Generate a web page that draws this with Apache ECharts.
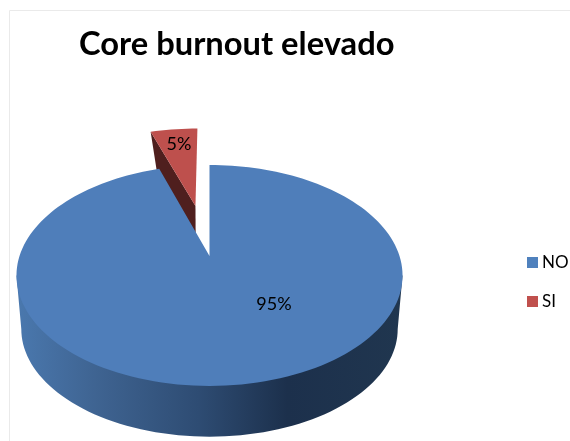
<!DOCTYPE html>
<html>
<head>
<meta charset="utf-8">
<style>html,body{margin:0;padding:0;background:#fff}#chart{width:570px;height:441px}</style>
<script src="https://cdn.jsdelivr.net/npm/echarts@6/dist/echarts.min.js"></script>
</head>
<body>
<div id="chart"></div>
<script>
const categories = ['NO', 'SI'];
const values = [95, 5];
const chartTitle = 'Core burnout elevado';

const FONT = 'Lato, "Open Sans", sans-serif';
const total = values.reduce((a, b) => a + b, 0);

// Perspective projection of the tilted disc: unit circle -> screen ellipse.
const pie = { x: 209.5, y: 256, a: 190, b: 107, k: 0.1765 };
const floor = { scale: 0.975, drop: 54 };
const explode = { SI: 0.515 };

function project(wx, wy) {
  const w = 1 + pie.k * wy;
  return [pie.x + pie.a * wx / w, pie.y - pie.b * wy / w];
}
function lower(p, scale, drop) {
  return [pie.x + (p[0] - pie.x) * scale, pie.y + (p[1] - pie.y) * scale + drop];
}
function arc(startDeg, endDeg, ox, oy) {
  const pts = [];
  const steps = Math.max(4, Math.ceil(Math.abs(endDeg - startDeg) / 2));
  for (let i = 0; i <= steps; i++) {
    const t = (startDeg + (endDeg - startDeg) * i / steps) * Math.PI / 180;
    pts.push(project(ox + Math.sin(t), oy + Math.cos(t)));
  }
  return pts;
}
function sliceRange(index) {
  let before = 0;
  for (let i = 0; i < index; i++) before += values[i];
  return [before / total * 360, (before + values[index]) / total * 360];
}
function label(text, x, y) {
  return {
    type: 'text', x, y, z2: 10,
    style: { text, fontFamily: FONT, fontSize: 18, fill: '#000', align: 'center', verticalAlign: 'middle' }
  };
}

// Large slice: side wall with a horizontal shade, then the flat top.
function renderNo(params, api) {
  const [s, e] = sliceRange(0);
  const share = api.value(0) / total;
  const top = arc(s, e, 0, 0);
  // The wall spans the disc's left and right silhouette points.
  const side = Math.acos(-pie.k) * 180 / Math.PI;
  const rim = arc(side, 360 - side, 0, 0);
  const wall = [rim[0]]
    .concat(rim.map(p => lower(p, floor.scale, floor.drop)))
    .concat([rim[rim.length - 1]]);
  const shade = {
    type: 'linear', x: 17, y: 0, x2: 403, y2: 0, global: true,
    colorStops: [
      { offset: 0, color: '#4A78AE' },
      { offset: 0.2, color: '#3F6492' },
      { offset: 0.47, color: '#2E4C73' },
      { offset: 0.7, color: '#1C304C' },
      { offset: 1, color: '#20364F' }
    ]
  };
  return {
    type: 'group',
    children: [
      { type: 'polygon', shape: { points: wall }, style: { fill: shade } },
      { type: 'polygon', shape: { points: [[pie.x, pie.y]].concat(top) }, style: { fill: '#4F7EBA' }, z2: 2 },
      label(Math.round(share * 100) + '%', 274, 304)
    ]
  };
}

// Pulled-out slice: dark cut face on its left, red top face over it.
function renderSi(params, api) {
  const [s, e] = sliceRange(1);
  const share = api.value(0) / total;
  const mid = (s + e) / 2 * Math.PI / 180;
  const ox = Math.sin(mid) * explode.SI;
  const oy = Math.cos(mid) * explode.SI;
  const apex = project(ox, oy);
  const top = arc(s, e, ox, oy);
  const far = top[0];
  const face = [apex, far, lower(far, 0.81, 48), lower(apex, 0.975, 54)];
  return {
    type: 'group',
    children: [
      { type: 'polygon', shape: { points: face }, style: { fill: '#4F1F1E' } },
      { type: 'polygon', shape: { points: [apex].concat(top) }, style: { fill: '#BE504D' }, z2: 2 },
      label(Math.round(share * 100) + '%', 179, 144)
    ]
  };
}

const chart = echarts.init(document.getElementById('chart'), null, { renderer: 'canvas' });
chart.setOption({
  animation: false,
  backgroundColor: '#fff',
  title: {
    text: chartTitle,
    left: 74, top: 23,
    textStyle: { fontFamily: FONT, fontSize: 32.7, fontWeight: 'bold', color: '#000' }
  },
  legend: {
    data: categories,
    orient: 'vertical',
    left: 522, top: 249,
    itemWidth: 11, itemHeight: 11, itemGap: 22,
    icon: 'rect',
    textStyle: { fontFamily: FONT, fontSize: 17, color: '#000', padding: [0, 0, 0, -1] }
  },
  graphic: [{
    type: 'rect', silent: true, z: -1,
    shape: { x: 9.5, y: 10.5, width: 620, height: 500 },
    style: { fill: 'none', stroke: '#EAEAEA', lineWidth: 1 }
  }],
  series: [
    { type: 'custom', name: categories[0], coordinateSystem: 'none', z: 3, itemStyle: { color: '#4F81BD' }, renderItem: renderNo, data: [[values[0]]] },
    { type: 'custom', name: categories[1], coordinateSystem: 'none', z: 2, itemStyle: { color: '#C0504D' }, renderItem: renderSi, data: [[values[1]]] }
  ]
});
</script>
</body>
</html>
